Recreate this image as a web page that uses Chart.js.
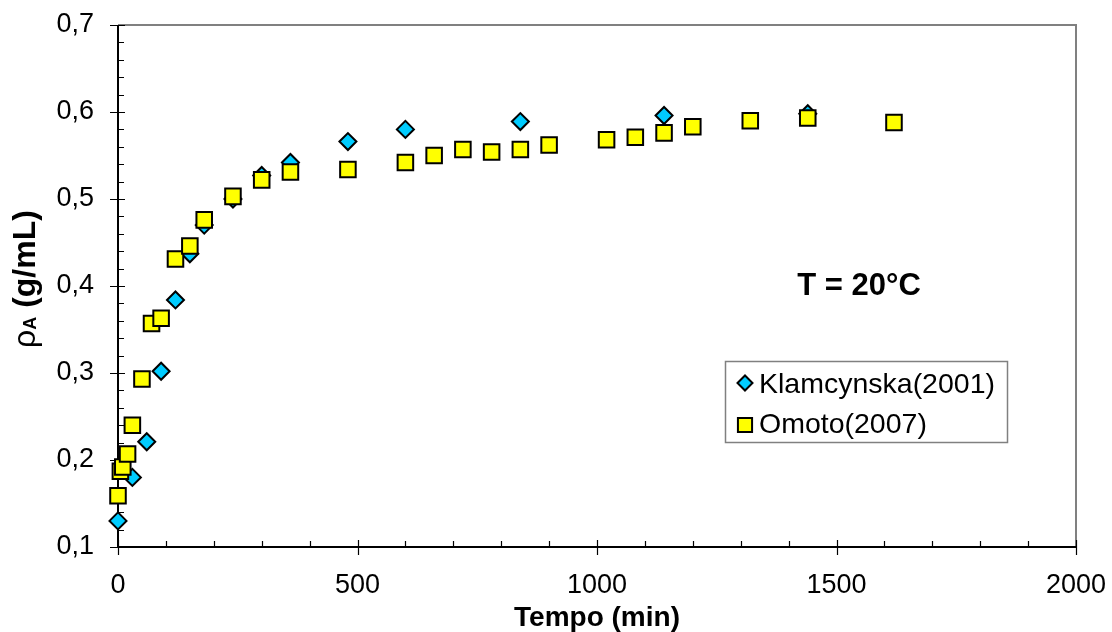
<!DOCTYPE html>
<html lang="pt">
<head>
<meta charset="UTF-8">
<title>Massa especifica x tempo - T = 20°C</title>
<script src="https://cdn.jsdelivr.net/npm/chart.js@4.4.1/dist/chart.umd.min.js"></script>
<style>
    html, body { margin: 0; padding: 0; background: #ffffff; }
    #wrap { position: relative; width: 1112px; height: 632px; }
</style>
</head>
<body>

<div id="wrap">
    <canvas id="grafico"></canvas>
</div>

<script>
    // Klamcynska (2001)
    var tempoK = [0, 30, 60, 90, 120, 150, 180, 240, 300, 360, 480, 600, 840, 1140, 1440];
    var rhoK   = [0.130, 0.180, 0.221, 0.302, 0.384, 0.437, 0.470, 0.500, 0.527, 0.542, 0.566, 0.580, 0.589, 0.596, 0.598];

    // Omoto (2007)
    var tempoO = [0, 5, 10, 20, 30, 50, 70, 90, 120, 150, 180, 240, 300, 360, 480, 600, 660, 720, 780, 840, 900, 1020, 1080, 1140, 1200, 1320, 1440, 1620];
    var rhoO   = [0.159, 0.187, 0.192, 0.207, 0.240, 0.293, 0.357, 0.363, 0.431, 0.446, 0.476, 0.503, 0.522, 0.531, 0.534, 0.542, 0.550, 0.557, 0.554, 0.557, 0.562, 0.568, 0.571, 0.576, 0.583, 0.590, 0.593, 0.588];

    var xTicks = [0, 500, 1000, 1500, 2000];
    var yTicks = [0.1, 0.2, 0.3, 0.4, 0.5, 0.6, 0.7];

    var FONTE = "'Liberation Sans', Arial, Helvetica, sans-serif";

    function pares(xs, ys) {
        var out = [];
        for (var i = 0; i < xs.length; i++) out.push({ x: xs[i], y: ys[i] });
        return out;
    }

    // sem folga extra para os rotulos das pontas, a area do grafico fica fixa
    function semFolga(s) {
        s.paddingLeft = 0;
        s.paddingRight = 0;
        s.paddingTop = 0;
        s.paddingBottom = 0;
    }

    var serieK = {
        label: 'Klamcynska(2001)',
        data: pares(tempoK, rhoK),
        pointStyle: 'rectRot',
        pointRadius: 8.5,
        backgroundColor: '#00ccff',
        borderColor: '#000000',
        borderWidth: 2,
        order: 2,
        clip: false
    };
    var serieO = {
        label: 'Omoto(2007)',
        data: pares(tempoO, rhoO),
        pointStyle: 'rect',
        pointRadius: 11,
        backgroundColor: '#ffff00',
        borderColor: '#000000',
        borderWidth: 2,
        order: 1,
        clip: false
    };

    // eixos no estilo do Excel: moldura, ticks principais cruzando e secundarios para dentro
    var eixos = {
        id: 'eixos',
        beforeDatasetsDraw: function (chart) {
            var ctx = chart.ctx, a = chart.chartArea;
            var sx = chart.scales.x, sy = chart.scales.y;
            ctx.save();

            ctx.strokeStyle = '#808080';
            ctx.lineWidth = 2;
            ctx.beginPath();
            ctx.moveTo(a.left, a.top);
            ctx.lineTo(a.right, a.top);
            ctx.lineTo(a.right, a.bottom);
            ctx.stroke();

            ctx.strokeStyle = '#000000';
            ctx.lineWidth = 2;
            ctx.beginPath();
            ctx.moveTo(a.left, a.top);
            ctx.lineTo(a.left, a.bottom);
            ctx.lineTo(a.right, a.bottom);
            ctx.stroke();

            ctx.lineWidth = 1.2;
            ctx.beginPath();
            var v, p;
            for (v = 100; v < 2000; v += 100) {
                if (v % 500 === 0) continue;
                p = Math.round(sx.getPixelForValue(v)) + 0.5;
                ctx.moveTo(p, a.bottom);
                ctx.lineTo(p, a.bottom - 6);
            }
            for (v = 0.12; v < 0.7; v += 0.02) {
                if (Math.abs(v * 10 - Math.round(v * 10)) < 1e-6) continue;
                p = Math.round(sy.getPixelForValue(v)) + 0.5;
                ctx.moveTo(a.left, p);
                ctx.lineTo(a.left + 6, p);
            }
            xTicks.forEach(function (t) {
                var px = Math.round(sx.getPixelForValue(t)) + 0.5;
                ctx.moveTo(px, a.bottom - 7);
                ctx.lineTo(px, a.bottom + 8);
            });
            yTicks.forEach(function (t) {
                var py = Math.round(sy.getPixelForValue(t)) + 0.5;
                ctx.moveTo(a.left - 8, py);
                ctx.lineTo(a.left + 7, py);
            });
            ctx.stroke();
            ctx.restore();
        }
    };

    // legenda dentro da area do grafico, rotulo do eixo y com subscrito e a temperatura
    var anotacoes = {
        id: 'anotacoes',
        afterDatasetsDraw: function (chart) {
            var ctx = chart.ctx;
            ctx.save();

            // legenda
            ctx.fillStyle = '#ffffff';
            ctx.fillRect(725, 361, 283, 82);
            ctx.strokeStyle = '#808080';
            ctx.lineWidth = 1.5;
            ctx.strokeRect(725.5, 361.5, 282, 81);

            var itens = [serieK, serieO];
            var marcas = [383, 425];
            var bases = [393, 433];
            var tamanhos = [7.5, 10];
            itens.forEach(function (s, i) {
                ctx.fillStyle = s.backgroundColor;
                ctx.strokeStyle = '#000000';
                ctx.lineWidth = 2;
                Chart.helpers.drawPoint(ctx, {
                    pointStyle: s.pointStyle,
                    radius: tamanhos[i],
                    rotation: 0,
                    borderWidth: 2
                }, 745, marcas[i]);
                ctx.fillStyle = '#000000';
                ctx.font = '28.5px ' + FONTE;
                ctx.textAlign = 'left';
                ctx.textBaseline = 'alphabetic';
                ctx.fillText(s.label, 759, bases[i]);
            });

            // T = 20°C
            ctx.fillStyle = '#000000';
            ctx.font = 'bold 31px ' + FONTE;
            ctx.textAlign = 'center';
            ctx.textBaseline = 'alphabetic';
            ctx.fillText('T = 20°C', 859, 295);

            // titulo do eixo y: ρA (g/mL)
            var fRho = '32px ' + FONTE;
            var fSub = 'bold 18px ' + FONTE;
            var fResto = 'bold 32px ' + FONTE;
            ctx.font = fRho;  var w1 = ctx.measureText('ρ').width;
            ctx.font = fSub;  var w2 = ctx.measureText('A').width;
            ctx.font = fResto; var w3 = ctx.measureText(' (g/mL)').width;
            var total = w1 + w2 + w3;
            ctx.translate(35, 279);
            ctx.rotate(-Math.PI / 2);
            ctx.textAlign = 'left';
            var x0 = -total / 2;
            ctx.font = fRho;   ctx.fillText('ρ', x0, 0);
            ctx.font = fSub;   ctx.fillText('A', x0 + w1, 1);
            ctx.font = fResto; ctx.fillText(' (g/mL)', x0 + w1 + w2, 0);

            ctx.restore();
        }
    };

    var ctx = document.getElementById('grafico');
    var grafico = new Chart(ctx, {
        type: 'scatter',
        data: { datasets: [serieK, serieO] },
        options: {
            responsive: true,
            maintainAspectRatio: false,
            animation: false,
            layout: { padding: { left: 0, right: 36, top: 25, bottom: 0 } },
            plugins: {
                legend: { display: false },
                tooltip: { enabled: false }
            },
            scales: {
                x: {
                    type: 'linear',
                    min: 0,
                    max: 2000,
                    afterBuildTicks: function (s) {
                        s.ticks = xTicks.map(function (v) { return { value: v }; });
                    },
                    afterFit: function (s) { s.height = 85; semFolga(s); },
                    grid: { display: false, drawTicks: false },
                    border: { display: false },
                    ticks: {
                        color: '#000000',
                        font: { family: FONTE, size: 27 },
                        padding: 22,
                        maxRotation: 0,
                        callback: function (v) { return String(v); }
                    },
                    title: {
                        display: true,
                        text: 'Tempo (min)',
                        color: '#000000',
                        font: { family: FONTE, size: 28, weight: 'bold', lineHeight: 1.0 },
                        padding: { top: 0, bottom: 0 }
                    }
                },
                y: {
                    type: 'linear',
                    min: 0.1,
                    max: 0.7,
                    afterBuildTicks: function (s) {
                        s.ticks = yTicks.map(function (v) { return { value: v }; });
                    },
                    afterFit: function (s) { s.width = 118; semFolga(s); },
                    grid: { display: false, drawTicks: false },
                    border: { display: false },
                    ticks: {
                        color: '#000000',
                        font: { family: FONTE, size: 27 },
                        padding: 24,
                        callback: function (v) { return v.toFixed(1).replace('.', ','); }
                    }
                }
            }
        },
        plugins: [eixos, anotacoes]
    });
</script>

</body>
</html>
